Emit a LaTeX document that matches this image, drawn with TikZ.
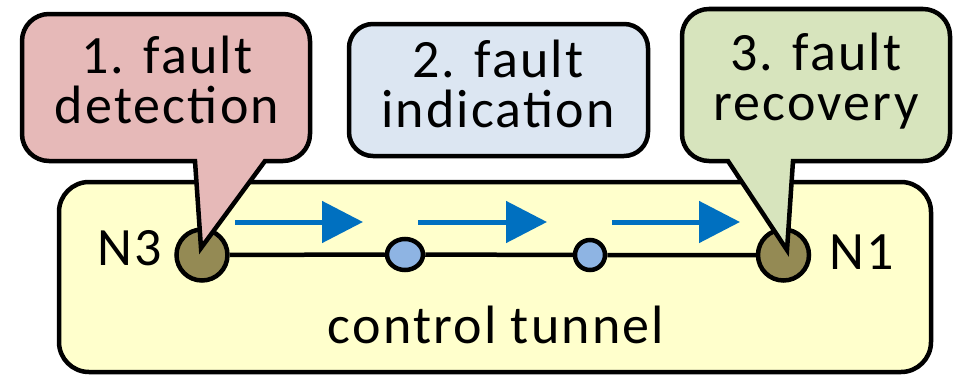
\documentclass[tikz,border=0pt]{standalone}
\usepackage{fontspec}
\setmainfont{Carlito}[LetterSpace=4]
\usetikzlibrary{arrows.meta,shapes.geometric}

\definecolor{tunnelfill}{HTML}{FFFFCC}
\definecolor{detectfill}{HTML}{E6B9B8}
\definecolor{indicatefill}{HTML}{DCE6F2}
\definecolor{recoverfill}{HTML}{D7E4BD}
\definecolor{hubfill}{HTML}{948A54}
\definecolor{relayfill}{HTML}{8EB4E3}
\definecolor{flowblue}{HTML}{0070C0}

\begin{document}
\begin{tikzpicture}[x=1pt, y=1pt, line join=miter,
  outline/.style={draw=black, line width=4.5pt},
  caption/.style={font=\fontsize{54}{50}\selectfont, inner sep=0pt, align=center, anchor=base},
  hub/.style={circle, outline, fill=hubfill, minimum size=51pt, inner sep=0pt},
  relay/.style={outline, fill=relayfill, inner sep=0pt},
  flow/.style={draw=flowblue, line width=5pt, -{Triangle[length=41pt, width=41pt]}}]
\useasboundingbox (0,0) rectangle (954,376);

% tunnel area
\node[outline, fill=tunnelfill, rounded corners=30pt, minimum width=872pt,
      minimum height=190pt, inner sep=0pt] (tunnel) at (495,99) {};

% switches along the tunnel
\node[hub] (n3) at (202,121) {};
\node[hub] (n1) at (783.5,121) {};
\node[relay, ellipse, minimum width=36pt, minimum height=31pt] (r1) at (405,121.5) {};
\node[relay, circle, minimum size=30pt] (r2) at (590,121) {};
\draw[outline] (n3) -- (r1) -- (r2) -- (n1);

% direction of the fault notification
\coordinate (a1s) at (235,154); \coordinate (a1e) at (363,154);
\coordinate (a2s) at (418,154); \coordinate (a2e) at (547,154);
\coordinate (a3s) at (612,154); \coordinate (a3e) at (740,154);
\draw[flow] (a1s) -- (a1e);
\draw[flow] (a2s) -- (a2e);
\draw[flow] (a3s) -- (a3e);

\node[caption] (n3lbl) at (130,111) {N3};
\node[caption] (n1lbl) at (862,107) {N1};
\node[caption] (tunnellbl) at (496,33) {control tunnel};

% step 2 box
\node[outline, fill=indicatefill, rounded corners=24pt, minimum width=299pt,
      minimum height=132pt, inner sep=0pt] (indicate) at (498.5,286) {};
\node[caption] (indicatelbl) at (498,249) {2. fault\\indication};

% step 1 callout pointing at N3
\filldraw[outline, fill=detectfill]
  (195,215) -- (201,128) -- (265,215) -- (283,215)
  arc[start angle=-90, end angle=0, radius=27] -- (310,335)
  arc[start angle=0, end angle=90, radius=27] -- (49,362)
  arc[start angle=90, end angle=180, radius=27] -- (22,242)
  arc[start angle=180, end angle=270, radius=27] -- cycle;
\node[caption] (detectlbl) at (167,253) {1. fault\\detection};

% step 3 callout pointing at N1
\filldraw[outline, fill=recoverfill]
  (728,215) -- (787,126) -- (793,215) -- (923,215)
  arc[start angle=-90, end angle=0, radius=27] -- (950,340)
  arc[start angle=0, end angle=90, radius=27] -- (709,367)
  arc[start angle=90, end angle=180, radius=27] -- (682,242)
  arc[start angle=180, end angle=270, radius=27] -- cycle;
\node[caption] (recoverlbl) at (816,256) {3. fault\\recovery};
\end{tikzpicture}
\end{document}
